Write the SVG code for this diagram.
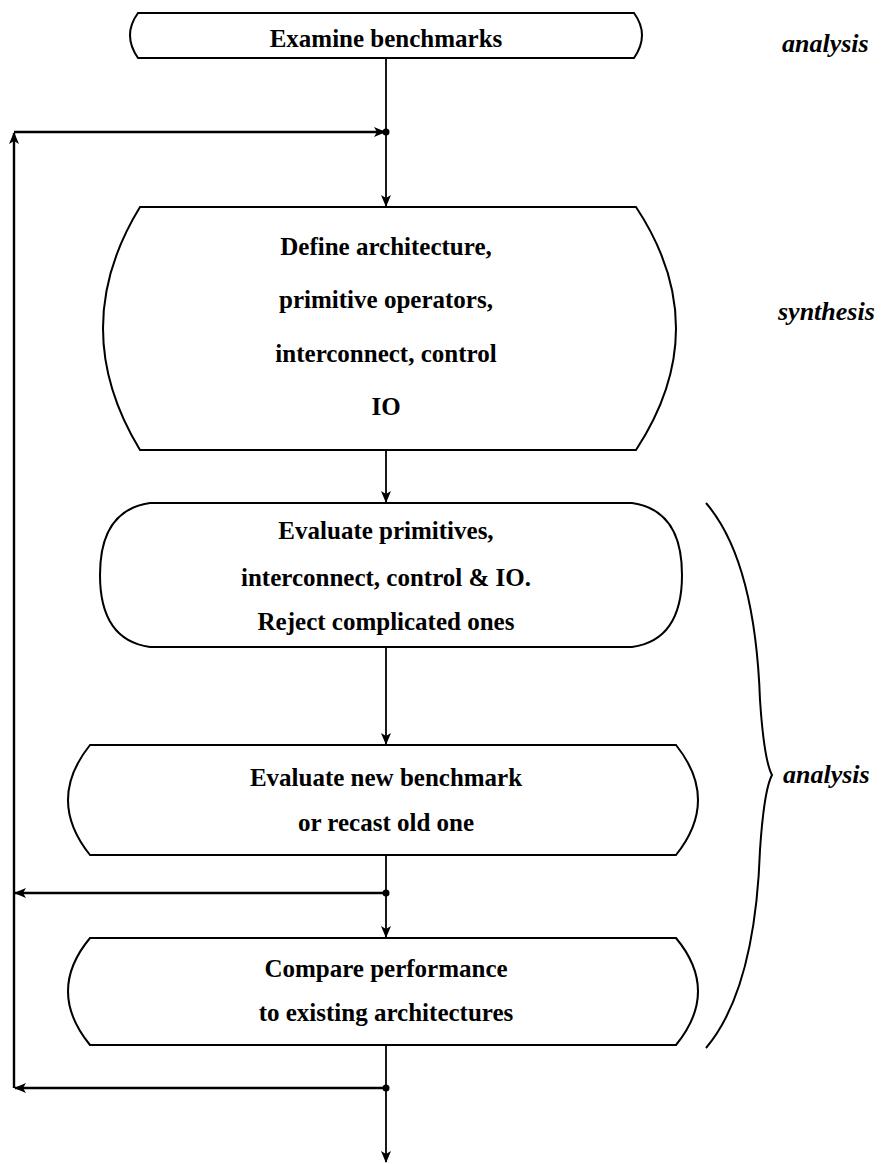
<svg xmlns="http://www.w3.org/2000/svg" width="884" height="1164" viewBox="0 0 884 1164">
  <style>
    .box { fill: #ffffff; stroke: #000000; stroke-width: 2; }
    .wire { fill: none; stroke: #000000; stroke-width: 1.8; }
    .loop { fill: none; stroke: #000000; stroke-width: 2.4; }
    .lbl { font-family: "Liberation Serif", "Times New Roman", serif; font-size: 25px; font-weight: bold; text-anchor: middle; fill: #000000; }
    .side { font-family: "Liberation Serif", "Times New Roman", serif; font-size: 26px; font-weight: bold; font-style: italic; fill: #000000; }
    .dot { fill: #000000; }
  </style>
  <defs>
    <marker id="arrow" viewBox="0 0 12 12" refX="11" refY="6" markerWidth="12" markerHeight="12" markerUnits="userSpaceOnUse" orient="auto">
      <path d="M0,1 L12,6 L0,11 L3,6 Z" fill="#000000"/>
    </marker>
  </defs>
  <rect width="884" height="1164" fill="#ffffff"/>

  <!-- connectors -->
  <g id="connectors">
    <line class="wire" x1="386" y1="58" x2="386" y2="206" marker-end="url(#arrow)"/>
    <line class="wire" x1="386" y1="450" x2="386" y2="502" marker-end="url(#arrow)"/>
    <line class="wire" x1="386" y1="647" x2="386" y2="744" marker-end="url(#arrow)"/>
    <line class="wire" x1="386" y1="855" x2="386" y2="937" marker-end="url(#arrow)"/>
    <line class="wire" x1="386" y1="1045" x2="386" y2="1162" marker-end="url(#arrow)"/>
    <!-- feedback loop on the left -->
    <line class="loop" x1="14" y1="1088" x2="14" y2="133" marker-end="url(#arrow)"/>
    <line class="loop" x1="14" y1="132" x2="385" y2="132" marker-end="url(#arrow)"/>
    <line class="loop" x1="386" y1="893" x2="15" y2="893" marker-end="url(#arrow)"/>
    <line class="loop" x1="386" y1="1088" x2="15" y2="1088" marker-end="url(#arrow)"/>
    <circle class="dot" cx="386" cy="132" r="3.5"/>
    <circle class="dot" cx="386" cy="893" r="3.5"/>
    <circle class="dot" cx="386" cy="1088" r="3.5"/>
  </g>

  <g id="examine">
    <path class="box" d="M138,13 L634,13 Q650,35 634,58 L138,58 Q122,35 138,13 Z"/>
    <text class="lbl" x="386" y="47">Examine benchmarks</text>
  </g>

  <g id="define">
    <path class="box" d="M140,207 L636,207 Q716,328 636,450 L140,450 Q66,328 140,207 Z"/>
    <text class="lbl" x="386" y="255">Define architecture,</text>
    <text class="lbl" x="386" y="308">primitive operators,</text>
    <text class="lbl" x="386" y="362">interconnect, control</text>
    <text class="lbl" x="386" y="415">IO</text>
  </g>

  <g id="evaluate-primitives">
    <path class="box" d="M150,503 L632,503 Q682,510 682,575 Q682,640 632,647 L150,647 Q100,640 100,575 Q100,510 150,503 Z"/>
    <text class="lbl" x="386" y="539">Evaluate primitives,</text>
    <text class="lbl" x="386" y="586">interconnect, control &amp; IO.</text>
    <text class="lbl" x="386" y="630">Reject complicated ones</text>
  </g>

  <g id="evaluate-benchmark">
    <path class="box" d="M90,745 L676,745 Q720,800 676,855 L90,855 Q46,800 90,745 Z"/>
    <text class="lbl" x="386" y="786">Evaluate new benchmark</text>
    <text class="lbl" x="386" y="831">or recast old one</text>
  </g>

  <g id="compare">
    <path class="box" d="M90,938 L676,938 Q720,991 676,1045 L90,1045 Q46,991 90,938 Z"/>
    <text class="lbl" x="386" y="977">Compare performance</text>
    <text class="lbl" x="386" y="1021">to existing architectures</text>
  </g>

  <!-- phase annotations -->
  <g id="phases">
    <text class="side" x="782" y="52">analysis</text>
    <text class="side" x="778" y="320">synthesis</text>
    <path d="M706,503 Q755,560 760,700 Q764,760 772,775 Q764,790 760,850 Q755,990 706,1048" fill="none" stroke="#000000" stroke-width="2"/>
    <text class="side" x="783" y="783">analysis</text>
  </g>
</svg>
